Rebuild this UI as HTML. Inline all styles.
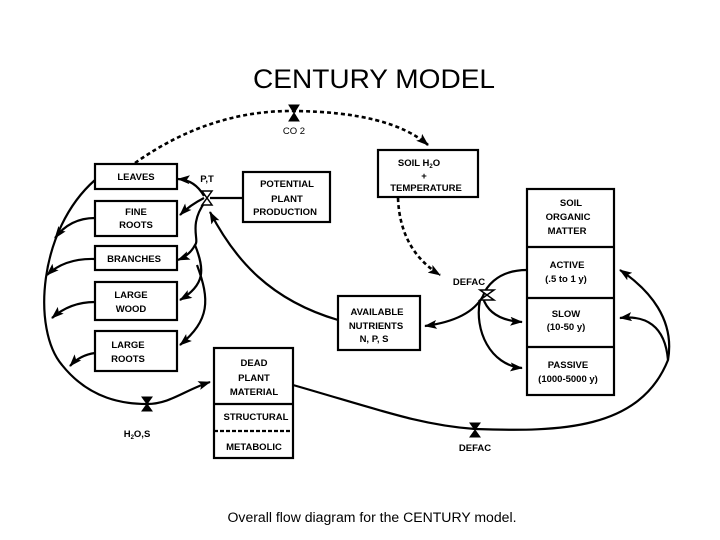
<!DOCTYPE html>
<html><head><meta charset="utf-8"><style>
html,body{margin:0;padding:0;background:#fff;}
svg{display:block;}
text{font-family:"Liberation Sans",sans-serif;fill:#000;}
.b{font-size:9.5px;font-weight:bold;text-anchor:middle;}
</style></head><body>
<svg width="720" height="540" viewBox="0 0 720 540" xmlns="http://www.w3.org/2000/svg">
<defs>
<marker id="a" viewBox="0 0 14 10" refX="13" refY="5" markerWidth="15" markerHeight="9" orient="auto-start-reverse" markerUnits="userSpaceOnUse"><path d="M0,0L14,5L0,10L3,5z" fill="#000"/></marker>
</defs>
<text x="374" y="88" font-size="27" text-anchor="middle" textLength="242" lengthAdjust="spacingAndGlyphs">CENTURY MODEL</text>
<g fill="none" stroke="#000" stroke-width="2.2">
<rect x="95" y="164" width="82" height="25"/>
<rect x="95" y="201" width="82" height="35"/>
<rect x="95" y="246" width="82" height="24"/>
<rect x="95" y="282" width="82" height="38"/>
<rect x="95" y="331" width="82" height="40"/>
<rect x="243" y="172" width="87" height="50"/>
<rect x="378" y="150" width="100" height="47"/>
<rect x="527" y="189" width="87" height="206"/>
<line x1="527" y1="247" x2="614" y2="247"/>
<line x1="527" y1="298" x2="614" y2="298"/>
<line x1="527" y1="347" x2="614" y2="347"/>
<rect x="338" y="296" width="82" height="54"/>
<rect x="214" y="348" width="79" height="110"/>
<line x1="214" y1="404" x2="293" y2="404"/>
<line x1="214" y1="431" x2="293" y2="431" stroke-dasharray="4,2"/>
</g>
<g fill="none" stroke="#000" stroke-width="2.6" stroke-dasharray="4,3">
<path d="M135,163 Q210,110 294,111 Q390,112 428,145" marker-end="url(#a)"/>
<path d="M398,198 Q400,250 440,275" marker-end="url(#a)"/>
</g>
<g fill="none" stroke="#000" stroke-width="2.2">
<line x1="210" y1="198" x2="243" y2="198"/>
<path d="M95,180 C38,230 32,330 62,365 C90,400 125,404 147,404 C170,404 185,390 210,382" marker-end="url(#a)"/>
<path d="M95,218 Q70,218 55,238" marker-end="url(#a)"/>
<path d="M95,259 Q65,258 47,275" marker-end="url(#a)"/>
<path d="M95,302 Q70,302 52,318" marker-end="url(#a)"/>
<path d="M95,353 Q80,355 70,366" marker-end="url(#a)"/>
<path d="M204,196 Q195,180 178,179" marker-end="url(#a)"/>
<path d="M204,198 Q190,205 180,215" marker-end="url(#a)"/>
<path d="M205,202 C188,225 200,240 195,245 Q190,255 178,260" marker-end="url(#a)"/>
<path d="M195,245 C205,270 205,285 180,300" marker-end="url(#a)"/>
<path d="M197,265 C210,300 210,320 180,345" marker-end="url(#a)"/>
<path d="M338,320 C270,300 235,260 210,212" marker-end="url(#a)"/>
<path d="M293,385 C380,410 420,425 475,429 C560,432 640,430 668,360 C675,320 650,290 620,270" marker-end="url(#a)"/>
<path d="M668,360 C665,325 645,315 620,318" marker-end="url(#a)"/>
<path d="M527,270 C495,270 485,290 483,296 Q470,320 425,326" marker-end="url(#a)"/>
<path d="M483,298 Q490,320 522,322" marker-end="url(#a)"/>
<path d="M480,300 C474,330 490,365 522,368" marker-end="url(#a)"/>
</g>
<g fill="#000" stroke="#000" stroke-width="1">
<path d="M289,105L299,105L294,113z M289,121L299,121L294,113z"/>
<path d="M202,191L212,191L207,198z M202,205L212,205L207,198z" fill="#fff" stroke-width="1.5"/>
<path d="M142,397L152,397L147,404z M142,411L152,411L147,404z"/>
<path d="M470,423L480,423L475,430z M470,437L480,437L475,430z"/>
<path d="M480,290L494,300L480,300L494,290z" fill="#fff" stroke-width="1.5"/>
</g>
<text x="294" y="134" font-size="9.5" text-anchor="middle">CO 2</text>
<text x="207" y="182" class="b">P,T</text>
<text x="136" y="180" class="b">LEAVES</text>
<text x="136" y="215" class="b">FINE</text>
<text x="136" y="228" class="b">ROOTS</text>
<text x="134" y="262" class="b">BRANCHES</text>
<text x="131" y="298" class="b">LARGE</text>
<text x="131" y="312" class="b">WOOD</text>
<text x="128" y="348" class="b">LARGE</text>
<text x="128" y="362" class="b">ROOTS</text>
<text x="287" y="187" class="b">POTENTIAL</text>
<text x="287" y="202" class="b">PLANT</text>
<text x="285" y="215" class="b">PRODUCTION</text>
<text x="419" y="166" class="b">SOIL H<tspan font-size="6" dy="2">2</tspan><tspan dy="-2">O</tspan></text>
<text x="424" y="179" class="b">+</text>
<text x="426" y="191" class="b">TEMPERATURE</text>
<text x="571" y="206" class="b">SOIL</text>
<text x="568" y="220" class="b">ORGANIC</text>
<text x="567" y="234" class="b">MATTER</text>
<text x="567" y="268" class="b">ACTIVE</text>
<text x="566" y="282" class="b" font-weight="normal">(.5 to 1 y)</text>
<text x="566" y="317" class="b" font-weight="normal">SLOW</text>
<text x="566" y="330" class="b" font-weight="normal">(10-50 y)</text>
<text x="568" y="368" class="b" font-weight="normal">PASSIVE</text>
<text x="568" y="382" class="b">(1000-5000 y)</text>
<text x="469" y="285" class="b">DEFAC</text>
<text x="475" y="451" class="b">DEFAC</text>
<text x="377" y="315" class="b">AVAILABLE</text>
<text x="376" y="329" class="b" font-weight="normal">NUTRIENTS</text>
<text x="374" y="342" class="b">N, P, S</text>
<text x="254" y="366" class="b">DEAD</text>
<text x="254" y="381" class="b">PLANT</text>
<text x="254" y="395" class="b">MATERIAL</text>
<text x="256" y="420" class="b">STRUCTURAL</text>
<text x="254" y="450" class="b">METABOLIC</text>
<text x="137" y="437" class="b">H<tspan font-size="6" dy="2">2</tspan><tspan dy="-2">O,S</tspan></text>
<text x="372" y="522" font-size="13.5" text-anchor="middle" textLength="289" lengthAdjust="spacingAndGlyphs">Overall flow diagram for the CENTURY model.</text>
</svg>
</body></html>
